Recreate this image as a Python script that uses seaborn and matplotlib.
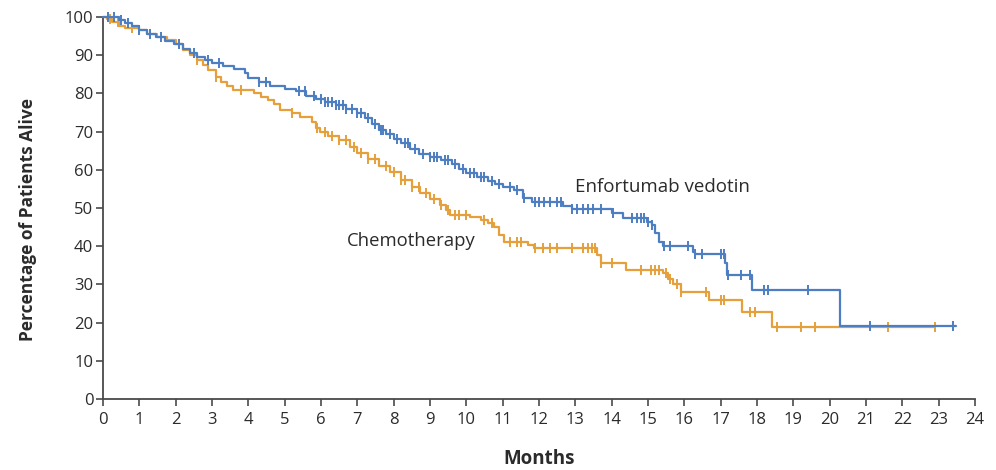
import numpy as np
import pandas as pd
import matplotlib
matplotlib.use("Agg")
import matplotlib.pyplot as plt
import seaborn as sns

# ---------------- data ----------------
ev_times = [0, 0.45, 0.6, 0.8, 1.0, 1.2, 1.45, 1.7, 1.95, 2.2, 2.4, 2.6, 2.8, 3.0, 3.3, 3.6,
            3.9, 3.98, 4.3, 4.6, 5.0, 5.3, 5.6, 5.85, 6.1, 6.4, 6.7, 7.0, 7.2, 7.4, 7.6, 7.8,
            8.0, 8.2, 8.45, 8.7, 9.0, 9.3, 9.6, 9.8, 10.0, 10.3, 10.6, 10.8, 11.0, 11.3, 11.55,
            11.8, 12.65, 12.9, 14.0, 14.3, 14.97, 15.1, 15.2, 15.3, 15.4, 16.25, 16.3, 17.13,
            17.18, 17.87, 20.28, 23.47]
ev_surv = [100, 99.3, 98.3, 97.5, 96.5, 95.5, 94.8, 93.8, 93.0, 91.6, 90.6, 89.6, 88.7, 88.0,
           87.2, 86.3, 85.2, 83.9, 83.0, 82.0, 81.2, 80.5, 79.4, 78.5, 77.8, 77.0, 76.0, 74.8,
           73.5, 72.0, 70.5, 69.3, 68.0, 67.0, 65.5, 64.0, 63.3, 62.5, 61.5, 60.3, 59.2, 58.0,
           57.0, 56.3, 55.4, 54.6, 52.6, 51.6, 50.6, 49.8, 48.6, 47.3, 46.3, 45.5, 43.4, 41.2,
           40.0, 38.6, 38.0, 35.6, 32.5, 28.5, 19.0, 19.0]
ev_censor = [0.15, 0.3, 0.5, 0.7, 1.0, 1.3, 1.6, 2.1, 2.5, 2.9, 3.2, 4.3, 4.5, 5.4, 5.55, 5.8,
             6.0, 6.1, 6.2, 6.3, 6.4, 6.5, 6.6, 6.7, 6.85, 7.0, 7.1, 7.3, 7.5, 7.65, 7.7, 7.9,
             8.1, 8.3, 8.4, 8.6, 8.8, 9.0, 9.1, 9.2, 9.4, 9.5, 9.7, 9.9, 10.1, 10.2, 10.4,
             10.5, 10.7, 10.9, 11.2, 11.4, 11.6, 11.9, 12.0, 12.15, 12.3, 12.5, 12.6, 12.9,
             13.05, 13.2, 13.35, 13.5, 13.7, 14.05, 14.57, 14.7, 14.8, 14.9, 15.0, 15.1,
             15.45, 15.6, 16.1, 16.3, 16.5, 17.0, 17.1, 17.2, 17.55, 17.8, 18.2, 18.3, 19.4,
             21.1, 23.4]

ch_times = [0, 0.1, 0.25, 0.45, 0.6, 1.0, 1.2, 1.5, 1.75, 2.0, 2.2, 2.4, 2.58, 2.75, 2.9, 3.1,
            3.25, 3.4, 3.58, 4.15, 4.35, 4.55, 4.7, 4.88, 5.2, 5.43, 5.75, 5.85, 5.98, 6.2, 6.5,
            6.8, 7.0, 7.3, 7.6, 7.9, 8.2, 8.5, 8.73, 9.0, 9.28, 9.45, 9.56, 10.1, 10.4, 10.6,
            10.75, 10.9, 11.05, 11.7, 11.85, 13.6, 13.7, 14.4, 15.4, 15.55, 15.7, 15.9, 16.67,
            17.6, 18.4, 22.9]
ch_surv = [100, 99.4, 98.8, 97.6, 97.2, 96.5, 95.5, 94.8, 94.0, 93.0, 91.4, 90.0, 88.7, 87.3,
           86.0, 84.3, 83.0, 81.8, 81.0, 80.2, 79.1, 78.2, 77.3, 75.7, 74.8, 73.9, 72.5, 71.0,
           69.8, 68.8, 67.8, 66.0, 64.5, 62.8, 61.0, 59.5, 57.3, 55.5, 53.8, 52.3, 50.8, 49.5,
           48.2, 47.6, 46.9, 46.0, 45.1, 42.9, 41.0, 40.2, 39.4, 37.7, 35.7, 33.8, 33.0, 31.5,
           30.0, 27.9, 25.9, 22.9, 18.9, 18.9]
ch_censor = [0.2, 0.4, 0.8, 2.6, 3.1, 3.8, 5.2, 5.9, 6.1, 6.3, 6.5, 6.7, 6.9, 7.1, 7.3, 7.5,
             7.8, 8.0, 8.2, 8.3, 8.5, 8.7, 8.9, 9.1, 9.3, 9.5, 9.7, 9.8, 10.0, 10.5, 10.7,
             11.2, 11.4, 11.5, 11.9, 12.1, 12.3, 12.5, 12.9, 13.2, 13.35, 13.45, 13.55, 13.7,
             14.0, 14.8, 15.07, 15.2, 15.3, 15.5, 15.6, 15.8, 15.9, 16.6, 17.0, 17.1, 17.8,
             17.95, 18.55, 19.2, 19.6, 21.6, 22.9]

arm_names = ["Chemotherapy", "Enfortumab vedotin"]
x_ticks = list(range(0, 25))
y_ticks = list(range(0, 101, 10))

# ---------------- style ----------------
BLUE = "#4D7EC2"
ORANGE = "#E5A03C"
AX_COL = "#4a4a4a"
TXT_COL = "#2b2b2b"

sns.set_theme(style="white")
plt.rcParams["font.family"] = ["Open Sans", "DejaVu Sans"]


def step_value(times, surv, t):
    times = np.asarray(times)
    idx = np.searchsorted(times, t, side="right") - 1
    return np.asarray(surv)[np.clip(idx, 0, len(surv) - 1)]


curves = pd.concat([
    pd.DataFrame({"t": ch_times, "s": ch_surv, "arm": arm_names[0]}),
    pd.DataFrame({"t": ev_times, "s": ev_surv, "arm": arm_names[1]}),
])
cens = pd.concat([
    pd.DataFrame({"t": ch_censor, "s": step_value(ch_times, ch_surv, ch_censor), "arm": arm_names[0]}),
    pd.DataFrame({"t": ev_censor, "s": step_value(ev_times, ev_surv, ev_censor), "arm": arm_names[1]}),
])
palette = {arm_names[0]: ORANGE, arm_names[1]: BLUE}

fig = plt.figure(figsize=(9.96, 4.70), dpi=100)
ax = fig.add_axes([0.1034, 0.151, 0.8755, 0.813])

for arm in arm_names:
    sub = curves[curves["arm"] == arm]
    sns.lineplot(data=sub, x="t", y="s", color=palette[arm], drawstyle="steps-post",
                 estimator=None, sort=False, linewidth=1.6, ax=ax, legend=False,
                 clip_on=False, zorder=3 if arm == arm_names[1] else 2)
    csub = cens[cens["arm"] == arm]
    sns.scatterplot(data=csub, x="t", y="s", color=palette[arm], marker="|", s=45,
                    linewidth=1.4, ax=ax, legend=False, clip_on=False,
                    zorder=3 if arm == arm_names[1] else 2)

ax.set_xlim(0, 24)
ax.set_ylim(0, 100)
ax.set_xticks(x_ticks)
ax.set_yticks(y_ticks)
ax.tick_params(axis="both", direction="out", length=5, width=1.2, color=AX_COL,
               labelsize=12, labelcolor=TXT_COL, bottom=True, left=True)
ax.tick_params(axis="x", pad=4.5)
ax.tick_params(axis="y", pad=2)
for side in ["top", "right"]:
    ax.spines[side].set_visible(False)
for side in ["left", "bottom"]:
    ax.spines[side].set_color(AX_COL)
    ax.spines[side].set_linewidth(1.3)

ax.set_xlabel("Months", fontsize=13.5, fontweight="bold", color=TXT_COL, labelpad=15)
ax.set_ylabel("Percentage of Patients Alive", fontsize=12.5, fontweight="bold",
              color=TXT_COL)
ax.yaxis.set_label_coords(-0.076, 0.47)

ax.text(13.0, 55.6, "Enfortumab vedotin", fontsize=13.5, color=TXT_COL, ha="left", va="center")
ax.text(6.7, 41.4, "Chemotherapy", fontsize=13.3, color=TXT_COL, ha="left", va="center")

fig.savefig("out.png", dpi=100, facecolor="white")
